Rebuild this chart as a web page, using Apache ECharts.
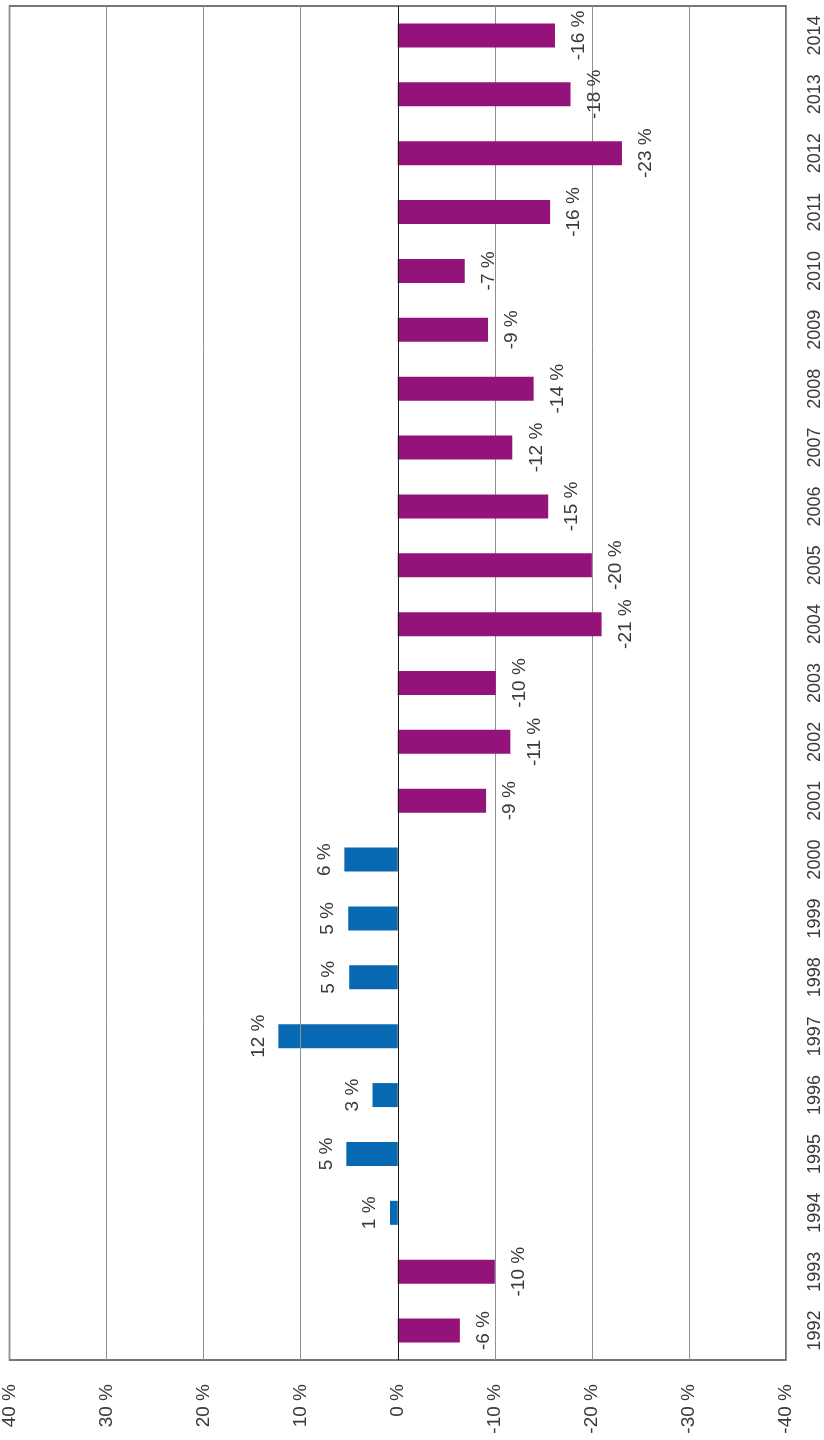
<!DOCTYPE html>
<html>
<head>
<meta charset="utf-8">
<script src="https://cdn.jsdelivr.net/npm/echarts@6/dist/echarts.min.js"></script>
<style>
  html, body { margin: 0; padding: 0; background: #ffffff; }
  #chart { width: 824px; height: 1440px; }
</style>
</head>
<body>
<div id="chart"></div>
<script>
const years = ['1992','1993','1994','1995','1996','1997','1998','1999','2000','2001','2002','2003','2004','2005','2006','2007','2008','2009','2010','2011','2012','2013','2014'];
const values = [-6.4, -10.0, 0.8, 5.3, 2.6, 12.3, 5.0, 5.1, 5.5, -9.1, -11.6, -10.1, -21.0, -20.0, -15.5, -11.8, -14.0, -9.3, -6.9, -15.7, -23.1, -17.8, -16.2];
const valueLabels = ['-6 %','-10 %','1 %','5 %','3 %','12 %','5 %','5 %','6 %','-9 %','-11 %','-10 %','-21 %','-20 %','-15 %','-12 %','-14 %','-9 %','-7 %','-16 %','-23 %','-18 %','-16 %'];
const axisMin = -40;
const axisMax = 40;
const axisStep = 10;

const PURPLE = '#93137B';
const BLUE = '#0669B1';
const TEXT = '#3a3a3a';
const GRIDC = '#8f8f8f';
const FONT = '"Liberation Sans", Arial, Helvetica, sans-serif';

const chart = echarts.init(document.getElementById('chart'), null, { renderer: 'canvas' });

chart.setOption({
  backgroundColor: '#ffffff',
  animation: false,
  textStyle: { fontFamily: FONT },
  grid: {
    left: 8, right: 38, top: 6, bottom: 80,
    show: true,
    borderColor: '#4a4a4a',
    borderWidth: 1.5,
    backgroundColor: 'transparent'
  },
  xAxis: {
    type: 'value',
    inverse: true,
    min: axisMin,
    max: axisMax,
    interval: axisStep,
    position: 'bottom',
    axisLine: { show: false },
    axisTick: { show: false },
    splitLine: { show: true, lineStyle: { color: GRIDC, width: 1 } },
    axisLabel: {
      rotate: 90,
      margin: 24,
      fontSize: 19,
      color: TEXT,
      fontFamily: FONT,
      showMinLabel: true,
      showMaxLabel: true,
      formatter: v => v + ' %'
    }
  },
  yAxis: {
    type: 'category',
    data: years,
    position: 'right',
    axisLine: { show: false },
    axisTick: { show: false },
    splitLine: { show: false },
    axisLabel: {
      rotate: 90,
      margin: 20,
      fontSize: 18,
      color: TEXT,
      fontFamily: FONT,
      interval: 0
    }
  },
  series: [{
    type: 'bar',
    barWidth: 24,
    data: values.map((v, i) => ({
      value: v,
      itemStyle: { color: v < 0 ? PURPLE : BLUE },
      label: {
        position: v < 0 ? 'right' : 'left',
        distance: v < 0 ? 24 : 20
      }
    })),
    label: {
      show: true,
      rotate: 90,
      align: 'center',
      verticalAlign: 'middle',
      fontSize: 19,
      color: TEXT,
      fontFamily: FONT,
      formatter: p => valueLabels[p.dataIndex]
    },
    markLine: {
      silent: true,
      symbol: 'none',
      label: { show: false },
      data: [
        { xAxis: 0, lineStyle: { color: '#1a1a1a', width: 1, type: 'solid' } },
        { xAxis: 10, lineStyle: { color: GRIDC, width: 1, type: 'solid' } }
      ]
    }
  }]
});
</script>
</body>
</html>
